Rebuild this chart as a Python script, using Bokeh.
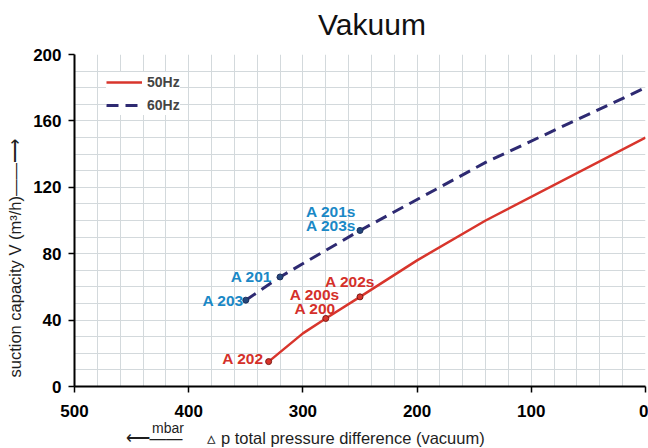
from bokeh.plotting import figure
from bokeh.models import (Range1d, FixedTicker, Legend, LegendItem, Label,
                          ColumnDataSource)
from bokeh.core.properties import value
from bokeh.embed import file_html
from bokeh.resources import INLINE

# ---------------- data ----------------
pressure_50 = [330, 300, 280, 250, 200, 140, 0]
flow_50 = [15, 32, 41, 54, 76, 100, 150]

pressure_60 = [350, 320, 250, 140, 0]
flow_60 = [52, 66, 94, 135, 180]

pts50_x = [330, 280, 250]
pts50_y = [15, 41, 54]
pts60_x = [350, 320, 250]
pts60_y = [52, 66, 94]

labels_60 = ["A 203", "A 201", "A 203s", "A 201s"]
labels_60_x = [350, 320, 250, 250]
labels_60_y = [52, 66, 94, 94]

labels_50 = ["A 202", "A 200", "A 200s", "A 202s"]
labels_50_x = [330, 280, 280, 250]
labels_50_y = [15, 41, 41, 54]

x_ticks = [0, 100, 200, 300, 400, 500]
y_ticks = [0, 40, 80, 120, 160, 200]

title_text = "Vakuum"
y_label = "suction capacity V (m³/h)"
x_label = "▵ p total pressure difference (vacuum)"
x_unit = "mbar"

# ---------------- styles ----------------
RED = "#d8352c"
NAVY = "#2e2a72"
BLUE_TXT = "#1a88c6"
RED_TXT = "#d4302a"
FONT = "Liberation Sans"
TXT = "#1e1e1e"
ARROW_UP = "\u2014\u2014\u27f6"          # long arrow drawn with text glyphs
ARROW_LEFT = "\u27f5\u2014\u2014"
GAP = "\u2003\u2002"                     # em + en space (kept in svg)

p = figure(width=648, height=448, output_backend="svg", toolbar_location=None,
           x_range=Range1d(500, 0), y_range=Range1d(0, 200),
           min_border_left=74, min_border_right=3, min_border_top=54,
           min_border_bottom=62)
p.outline_line_color = None

p.xgrid.ticker = FixedTicker(ticks=list(range(0, 501, 20)))
p.ygrid.ticker = FixedTicker(ticks=list(range(0, 201, 10)))
p.grid.grid_line_color = "#d3d9dc"
p.grid.grid_line_width = 1

p.xaxis.ticker = FixedTicker(ticks=x_ticks)
p.yaxis.ticker = FixedTicker(ticks=y_ticks)
for ax in (p.xaxis, p.yaxis):
    ax.axis_line_color = "black"
    ax.axis_line_width = 2
    ax.major_tick_line_color = "black"
    ax.major_tick_line_width = 1.5
    ax.major_tick_in = 0
    ax.major_tick_out = 6
    ax.minor_tick_line_color = None
    ax.major_label_text_font = FONT
    ax.major_label_text_font_style = "bold"
    ax.major_label_text_font_size = "17px"
    ax.major_label_text_color = "black"
p.yaxis.major_label_standoff = 7
p.xaxis.major_label_standoff = 12

# curves
r50 = p.line(pressure_50, flow_50, line_color=RED, line_width=2.5)
r60 = p.line(pressure_60, flow_60, line_color=NAVY, line_width=3, line_dash="12 7")

p.scatter(pts60_x, pts60_y, size=6, fill_color="#24467c", line_color="#1d2f5a")
p.scatter(pts50_x, pts50_y, size=6, fill_color=RED, line_color="#7a1a14")

# point labels
src60 = ColumnDataSource(dict(x=labels_60_x, y=labels_60_y, t=labels_60,
                              xo=[-2, -8, -4, -4], yo=[0, 0, -5, -19]))
src50 = ColumnDataSource(dict(x=labels_50_x, y=labels_50_y, t=labels_50,
                              xo=[-5, 10, 14, 15], yo=[-3, -10, -24, -15]))
for src, col in ((src60, BLUE_TXT), (src50, RED_TXT)):
    p.text(x="x", y="y", text="t", source=src, x_offset="xo", y_offset="yo",
           text_font=value(FONT), text_font_style="bold", text_font_size="15.5px",
           text_color=col, text_align="right", text_baseline="middle")

# legend
legend = Legend(items=[LegendItem(label="50Hz", renderers=[r50]),
                       LegendItem(label="60Hz", renderers=[r60])],
                location=(32, 271), orientation="vertical",
                background_fill_color="white", background_fill_alpha=1,
                border_line_color=None, label_text_font=FONT,
                label_text_font_style="bold", label_text_font_size="14px",
                glyph_width=36, glyph_height=20, label_height=20,
                spacing=3, padding=4, margin=0, label_standoff=5)
p.add_layout(legend)

# ---- texts outside the frame: Labels in side panels (not clipped to the frame) ----
p.add_layout(Label(x=239.5, y=218.3, text=title_text, text_font=FONT,
                   text_font_size="30px", text_align="center",
                   text_baseline="middle", text_color="#111111"), "above")
p.add_layout(Label(x=418.1, y=-25.0, text=x_unit, text_font=FONT,
                   text_font_size="14px", text_align="center",
                   text_baseline="middle", text_color=TXT), "above")
p.add_layout(Label(x=552.5, y=5.4, text=y_label + ARROW_UP, angle=1.5708,
                   text_font=FONT, text_font_size="16.5px", text_align="left",
                   text_baseline="middle", text_color=TXT), "left")
p.add_layout(Label(x=455.3, y=-30.9, text=ARROW_LEFT + GAP + x_label,
                   text_font=FONT, text_font_size="16.5px", text_align="left",
                   text_baseline="middle", text_color=TXT), "below")

open("out.html", "w").write(file_html(p, INLINE))
